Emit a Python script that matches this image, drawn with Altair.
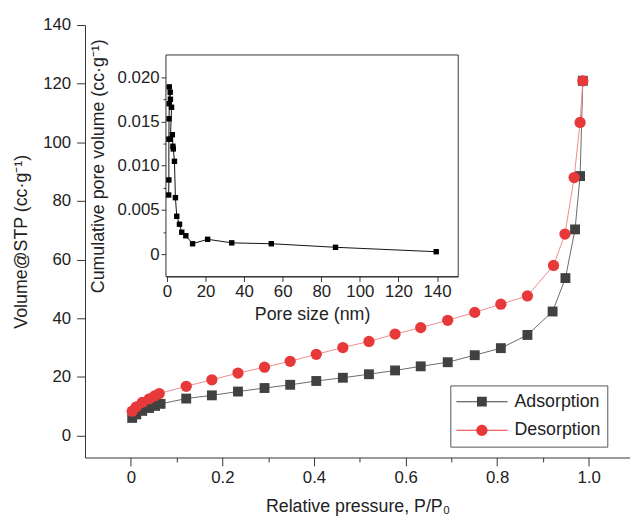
import json
import altair as alt
import pandas as pd

# ---------------- data ----------------
SERIES = ["Adsorption", "Desorption"]

ADS_P = [0.003, 0.012, 0.025, 0.040, 0.053, 0.065, 0.121, 0.177, 0.234, 0.292,
         0.348, 0.405, 0.463, 0.520, 0.577, 0.633, 0.692, 0.751, 0.808, 0.866,
         0.921, 0.949, 0.970, 0.981, 0.987]
ADS_V = [6.0, 7.2, 8.4, 9.4, 10.1, 10.8, 12.6, 13.7, 15.0, 16.2,
         17.3, 18.6, 19.7, 20.9, 22.2, 23.6, 25.0, 27.4, 29.8, 34.3,
         42.3, 53.7, 70.3, 88.5, 121.0]

DES_P = [0.003, 0.012, 0.025, 0.040, 0.052, 0.062, 0.121, 0.177, 0.234, 0.292,
         0.348, 0.405, 0.463, 0.520, 0.577, 0.633, 0.692, 0.751, 0.808, 0.866,
         0.923, 0.948, 0.968, 0.981, 0.987]
DES_V = [8.3, 9.8, 11.3, 12.5, 13.5, 14.3, 16.8, 19.0, 21.3, 23.3,
         25.3, 27.7, 30.0, 32.1, 34.6, 36.8, 39.3, 42.0, 44.8, 47.6,
         58.0, 68.7, 88.0, 106.8, 121.0]

PORE_D = [0.9, 1.0, 1.0, 1.1, 1.2, 1.2, 1.7, 1.8, 2.4, 1.8, 2.8, 3.1, 3.3,
          3.9, 4.4, 5.1, 6.5, 7.7, 9.8, 13.3, 21.1, 33.6, 54.1, 87.4, 139.6]
PORE_V = [0.0067, 0.0084, 0.0130, 0.0153, 0.0170, 0.0189, 0.0183, 0.0175,
          0.0166, 0.0130, 0.0135, 0.0122, 0.0119, 0.0105, 0.0064, 0.0043,
          0.0034, 0.0025, 0.0021, 0.0012, 0.0017, 0.0013, 0.0012, 0.0008, 0.0003]

X_TICKS = [0, 0.1, 0.2, 0.3, 0.4, 0.5, 0.6, 0.7, 0.8, 0.9, 1.0]
X_MAJOR = [0, 0.2, 0.4, 0.6, 0.8, 1.0]
Y_TICKS = [0, 10, 20, 30, 40, 50, 60, 70, 80, 90, 100, 110, 120, 130, 140]
Y_MAJOR = [0, 20, 40, 60, 80, 100, 120, 140]
IX_TICKS = [0, 10, 20, 30, 40, 50, 60, 70, 80, 90, 100, 110, 120, 130, 140, 150]
IX_MAJOR = [0, 20, 40, 60, 80, 100, 120, 140]
IY_TICKS = [0, 0.0025, 0.005, 0.0075, 0.01, 0.0125, 0.015, 0.0175, 0.02]
IY_MAJOR = [0, 0.005, 0.01, 0.015, 0.02]

X_DOMAIN = [-0.1, 1.09]
Y_DOMAIN = [-7.5, 140]
IX_DOMAIN = [-0.5, 151]
IY_DOMAIN = [-0.0025, 0.0225]

# ---------------- styling ----------------
FONT = "Liberation Sans"
TXT = "#222222"
AX = "#333333"
ADS_MARK, ADS_LINE = "#414141", "#6a6a6a"
DES_MARK, DES_LINE = "#e8393a", "#f08a8a"

W, H = 552, 438
INSET_XR = [82, 378]
INSET_YR = [254.7, 30.3]


def is_major(lst):
    return f"indexof({json.dumps(lst)}, datum.value) >= 0"


def tick_size(lst, big, small):
    return {"condition": {"test": is_major(lst), "value": big}, "value": small}


def axis(title, values, major, fmt, big=8.5, small=4.5, labelPadding=2, **kw):
    return alt.Axis(
        title=title, values=values,
        labelExpr=f"{is_major(major)} ? (datum.value == 0 ? '0' : format(datum.value, '{fmt}')) : ''",
        tickSize=tick_size(major, big, small), tickColor=AX, tickWidth=1,
        domainColor=AX, domainWidth=1, grid=False,
        labelFont=FONT, labelFontSize=17, labelColor=TXT, labelPadding=labelPadding,
        labelOverlap=False, labelFlush=False,
        titleFont=FONT, titleFontSize=18, titleFontWeight="normal", titleColor=TXT,
        **kw)


main_df = pd.DataFrame({
    "p": ADS_P + DES_P,
    "v": ADS_V + DES_V,
    "series": [SERIES[0]] * len(ADS_P) + [SERIES[1]] * len(DES_P),
    "i": list(range(len(ADS_P))) + list(range(len(DES_P))),
})

xs = alt.Scale(domain=X_DOMAIN, nice=False, zero=False)
ys = alt.Scale(domain=Y_DOMAIN, nice=False, zero=False)
x_ax = alt.X("p:Q", scale=xs, axis=axis("Relative pressure, P/P₀", X_TICKS, X_MAJOR, ".1f",
                                        labelPadding=4, titlePadding=12))
y_ax = alt.Y("v:Q", scale=ys, axis=axis("Volume@STP (cc·g⁻¹)", Y_TICKS, Y_MAJOR, "d",
                                        labelPadding=6, titlePadding=12))
x_na = alt.X("p:Q", scale=xs)
y_na = alt.Y("v:Q", scale=ys)

base = alt.Chart(main_df)
ads_line = base.transform_filter(alt.datum.series == SERIES[0]).mark_line(
    color=ADS_LINE, strokeWidth=1).encode(x=x_ax, y=y_ax, order="i:Q")
des_line = base.transform_filter(alt.datum.series == SERIES[1]).mark_line(
    color=DES_LINE, strokeWidth=1).encode(x=x_na, y=y_na, order="i:Q")
ads_pts = base.transform_filter(alt.datum.series == SERIES[0]).mark_point(
    shape="square", filled=True, opacity=1, size=100, color=ADS_MARK).encode(x=x_na, y=y_na)
des_pts = base.transform_filter(alt.datum.series == SERIES[1]).mark_point(
    shape="circle", filled=True, opacity=1, size=130, color=DES_MARK).encode(x=x_na, y=y_na)

PATH_SQ = "M-1,-0.02L1,-0.02L1,0.02L-1,0.02Z M-0.19,-0.19L0.19,-0.19L0.19,0.19L-0.19,0.19Z"
PATH_CI = "M-1,-0.02L1,-0.02L1,0.02L-1,0.02Z M-0.22,0A0.22,0.22 0 1,1 0.22,0A0.22,0.22 0 1,1 -0.22,0Z"

leg_kw = dict(title=None, orient="none", legendX=370, legendY=365,
              symbolSize=2704, clipHeight=21, rowPadding=8, padding=6,
              labelFont=FONT, labelFontSize=18, labelColor=TXT, labelOffset=7,
              strokeColor="#555555", fillColor="white", symbolStrokeWidth=0,
              symbolOpacity=1)
legend_layer = alt.Chart(pd.DataFrame({"lg": SERIES})).transform_filter("false").mark_point(
    filled=True, opacity=1).encode(
    color=alt.Color("lg:N", scale=alt.Scale(domain=SERIES, range=[ADS_MARK, DES_MARK]),
                    legend=alt.Legend(**leg_kw)),
    shape=alt.Shape("lg:N", scale=alt.Scale(domain=SERIES, range=[PATH_SQ, PATH_CI]),
                    legend=alt.Legend(**leg_kw)),
)

main_layer = alt.layer(ads_line, des_line, ads_pts, des_pts, legend_layer)

# ---------------- inset ----------------
inset_df = pd.DataFrame({"d": PORE_D, "cv": PORE_V, "i": list(range(len(PORE_D)))})
frame_df = pd.DataFrame({"d": [IX_DOMAIN[0]], "d2": [IX_DOMAIN[1]],
                         "cv": [IY_DOMAIN[0]], "cv2": [IY_DOMAIN[1]]})

ixs = alt.Scale(domain=IX_DOMAIN, range=INSET_XR, nice=False, zero=False)
iys = alt.Scale(domain=IY_DOMAIN, range=INSET_YR, nice=False, zero=False)

ix_ax = alt.X("d:Q", scale=ixs, axis=axis("Pore size (nm)", IX_TICKS, IX_MAJOR, "d",
                                           big=5, small=3, orient="bottom", offset=-183.3,
                                           titlePadding=7))
iy_ax = alt.Y("cv:Q", scale=iys, axis=axis("Cumulative pore volume (cc·g⁻¹)", IY_TICKS, IY_MAJOR, ".3f",
                                            big=5, small=3, orient="left", offset=-82,
                                            titlePadding=10))

frame = alt.Chart(frame_df).mark_rect(fill="white", stroke=AX, strokeWidth=1).encode(
    x=ix_ax, x2="d2:Q", y=iy_ax, y2="cv2:Q")
inset_line = alt.Chart(inset_df).mark_line(color="#111111", strokeWidth=1).encode(
    x=alt.X("d:Q", scale=ixs), y=alt.Y("cv:Q", scale=iys), order="i:Q")
inset_pts = alt.Chart(inset_df).mark_point(shape="square", filled=True, opacity=1,
                                           size=30, color="#000000").encode(
    x=alt.X("d:Q", scale=ixs), y=alt.Y("cv:Q", scale=iys))

inset_layer = alt.layer(frame, inset_line, inset_pts)

chart = alt.layer(main_layer, inset_layer).resolve_scale(
    x="independent", y="independent"
).properties(
    width=W, height=H, background="white",
    padding={"left": 5, "top": 5, "right": 0, "bottom": 0},
).configure_view(stroke=None)

chart.save("out.html", embed_options={"renderer": "svg", "actions": False})
